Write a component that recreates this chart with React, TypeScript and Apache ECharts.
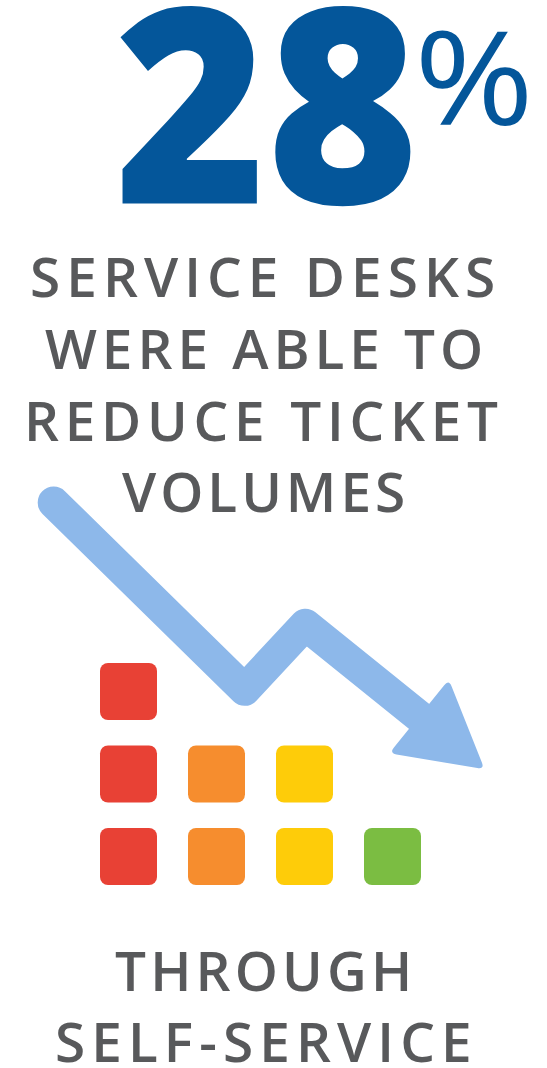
import React, { useEffect, useRef } from 'react';
import * as echarts from 'echarts';

// ---------- data ----------
const statValue = '28';
const statUnit = '%';
const headlineLines = ['SERVICE DESKS', 'WERE ABLE TO', 'REDUCE TICKET', 'VOLUMES'];
const footerLines = ['THROUGH', 'SELF-SERVICE'];
// stacked squares per column (column index 0..3, levels)
const columnLevels = [3, 2, 2, 1];
const columnColors = ['#E84135', '#F68D2E', '#FECC09', '#7BBD42'];
// downward trend arrow, in the same axis units as the squares
const trendX = [-0.85, 1.32, 2.01, 3.66];
const trendY = [5.29, 3.02, 3.81, 2.39];

// ---------- layout ----------
const W = 547;
const H = 1068;
const FAMILY = "'Open Sans', 'Noto Sans', sans-serif";
const GRAY = '#58595B';
const BLUE = '#04569A';
const ARROW = '#8DB8EA';
const GRID = { left: 40.5, right: 22.5, top: 444, bottom: 129 };
const X_MIN = -1, X_MAX = 4.5, Y_MIN = 0, Y_MAX = 6;
// ink boxes [left, right, baseline]
const headlineBoxes = [[32, 493, 297], [45, 480, 369], [29, 498, 441], [122, 403, 512]];
const footerBoxes = [[115, 408, 991], [57, 469, 1062]];
const CAP_H = 39.5;
// ink boxes [left, right, top, bottom]
const statBox = [120, 412, 8, 207];
const unitBox = [420, 527, 30, 126];

const SQUARE_PATH = 'path://M8,0H49A8,8 0 0 1 57,8V49A8,8 0 0 1 49,57H8A8,8 0 0 1 0,49V8A8,8 0 0 1 8,0Z';
const HEAD_PATH = 'path://M3.4,6.12L41.6,74.88Q45,81 38,81L-38,81Q-45,81 -41.6,74.88L-3.4,6.12Q0,0 3.4,6.12Z';

let ctx: CanvasRenderingContext2D | null = null;
function measure(text: string, font: string) {
  if (!ctx) ctx = document.createElement('canvas').getContext('2d');
  ctx!.font = font;
  return ctx!.measureText(text);
}

function trackedLine(text: string, box: number[]) {
  const [l, r, base] = box;
  const probe = measure('H', `600 100px ${FAMILY}`);
  const fs = (100 * CAP_H) / probe.actualBoundingBoxAscent;
  const font = `600 ${fs}px ${FAMILY}`;
  const m = measure(text, font);
  const nat = m.actualBoundingBoxLeft + m.actualBoundingBoxRight;
  const sp = text.length > 1 ? (r - l - nat) / (text.length - 1) : 0;
  const x = l + m.actualBoundingBoxLeft;
  const mid = (m.fontBoundingBoxAscent - m.fontBoundingBoxDescent) / 2;
  return {
    el: {
      type: 'text',
      x,
      y: base - mid,
      silent: true,
      style: {
        text,
        fontSize: fs,
        fontWeight: 600,
        fontFamily: FAMILY,
        lineHeight: CAP_H,
        fill: GRAY,
        textAlign: 'left',
        textVerticalAlign: 'middle',
      },
    },
    sp,
  };
}

function fitInk(text: string, weight: number, box: number[], fill: string) {
  const [l, r, t, b] = box;
  const m = measure(text, `${weight} 100px ${FAMILY}`);
  const h100 = m.actualBoundingBoxAscent + m.actualBoundingBoxDescent;
  const fs = (100 * (b - t)) / h100;
  const k = fs / 100;
  const inkW = (m.actualBoundingBoxLeft + m.actualBoundingBoxRight) * k;
  const sx = (r - l) / inkW;
  const x = l + m.actualBoundingBoxLeft * k * sx;
  const base = b - m.actualBoundingBoxDescent * k;
  const mid = ((m.fontBoundingBoxAscent - m.fontBoundingBoxDescent) / 2) * k;
  return {
    type: 'text',
    x,
    y: base - mid,
    scaleX: sx,
    silent: true,
    style: {
      text,
      fontSize: fs,
      fontWeight: weight,
      fontFamily: FAMILY,
      lineHeight: b - t,
      fill,
      textAlign: 'left',
      textVerticalAlign: 'middle',
    },
  };
}

export default function App() {
  const ref = useRef<HTMLDivElement>(null);

  useEffect(() => {
    document.body.style.margin = '0';
    const chart = echarts.init(ref.current!, null, { renderer: 'svg', width: W, height: H });

    const spacing: Record<string, number> = {};
    const textEls: any[] = [];
    headlineLines.forEach((t, i) => {
      const r = trackedLine(t, headlineBoxes[i]);
      spacing[t] = r.sp;
      textEls.push(r.el);
    });
    footerLines.forEach((t, i) => {
      const r = trackedLine(t, footerBoxes[i]);
      spacing[t] = r.sp;
      textEls.push(r.el);
    });
    textEls.push(fitInk(statValue, 800, statBox, BLUE));
    textEls.push(fitInk(statUnit, 400, unitBox, BLUE));

    const trend = trendX.map((x, i) => [x, trendY[i]]);
    const n = trend.length;
    const xUnit = (W - GRID.left - GRID.right) / (X_MAX - X_MIN);
    const yUnit = (H - GRID.top - GRID.bottom) / (Y_MAX - Y_MIN);
    const ang =
      (Math.atan2((trend[n - 1][1] - trend[n - 2][1]) * yUnit, (trend[n - 1][0] - trend[n - 2][0]) * xUnit) * 180) /
      Math.PI;

    const squares = columnLevels.flatMap((v, i) =>
      Array.from({ length: v }, (_, k) => ({ value: [i, k + 1], itemStyle: { color: columnColors[i], opacity: 1 } }))
    );

    chart.setOption({
      animation: false,
      backgroundColor: '#ffffff',
      grid: { ...GRID, containLabel: false },
      xAxis: { type: 'value', min: X_MIN, max: X_MAX, show: false },
      yAxis: { type: 'value', min: Y_MIN, max: Y_MAX, show: false },
      series: [
        {
          type: 'line',
          data: trend,
          symbol: 'none',
          showSymbol: false,
          clip: false,
          silent: true,
          z: 2,
          lineStyle: { width: 32, color: ARROW, cap: 'round', join: 'round', opacity: 1 },
        },
        {
          type: 'scatter',
          data: [trend[n - 1]],
          symbol: HEAD_PATH,
          symbolSize: [90, 81],
          symbolRotate: ang - 90,
          silent: true,
          z: 3,
          itemStyle: { color: ARROW, opacity: 1 },
        },
        {
          type: 'scatter',
          data: squares,
          symbol: SQUARE_PATH,
          symbolSize: 57,
          silent: true,
          z: 2,
          itemStyle: { opacity: 1 },
        },
      ],
      graphic: { elements: textEls },
    });

    const apply = () => {
      const nodes = ref.current ? ref.current.querySelectorAll('text') : [];
      nodes.forEach((node: any) => {
        const key = (node.textContent || '').replace(/\u00a0/g, ' ').trim();
        if (spacing[key] !== undefined) node.style.letterSpacing = `${spacing[key]}px`;
      });
    };
    apply();
    const timer = setTimeout(apply, 30);

    return () => {
      clearTimeout(timer);
      chart.dispose();
    };
  }, []);

  return <div ref={ref} style={{ width: W, height: H, position: 'absolute', left: 0, top: 0 }} />;
}
